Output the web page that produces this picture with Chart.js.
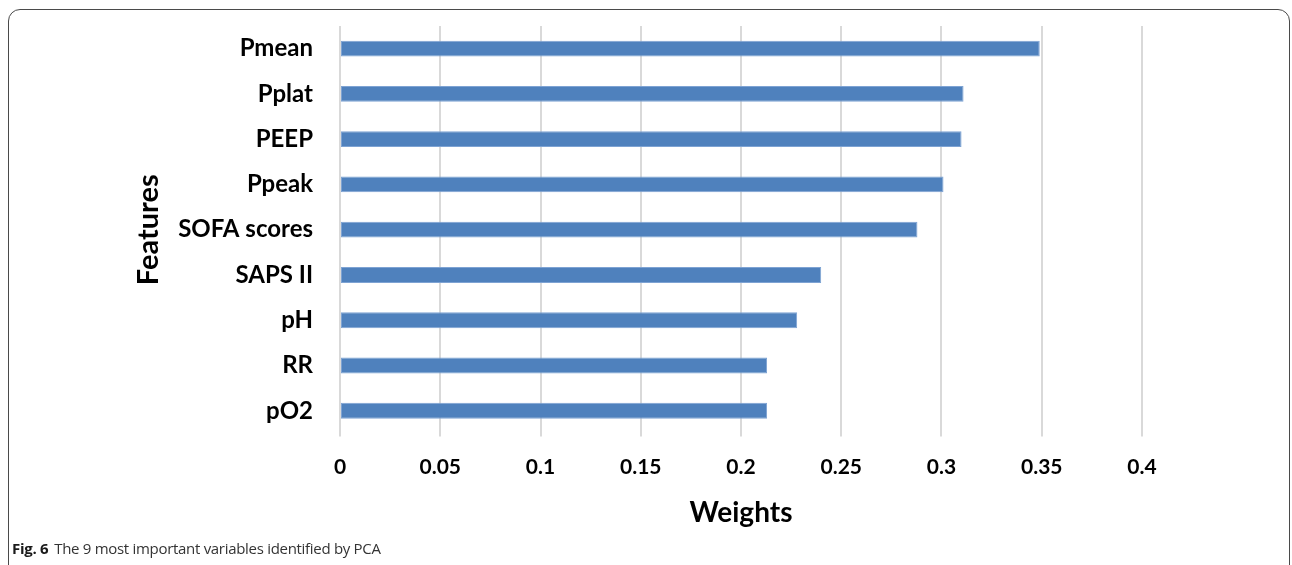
<!DOCTYPE html>
<html>
<head>
<meta charset="utf-8">
<script src="https://cdn.jsdelivr.net/npm/chart.js@4"></script>
<style>
    html, body { margin: 0; padding: 0; background: #fff; }
    #wrap { position: relative; width: 1292px; height: 565px; overflow: hidden; }
    #frame {
        position: absolute; left: 8px; top: 9px; width: 1280px; height: 600px;
        border: 1.5px solid #4a4a4a; border-radius: 12px 12px 0 0;
    }
    #chartBox { position: absolute; left: 0; top: 0; width: 1292px; height: 565px; }
    #caption {
        position: absolute; left: 12px; top: 538px;
        font-family: "Open Sans", sans-serif; font-size: 15px; color: #333;
        letter-spacing: -0.3px;
    }
    #caption b { color: #1a1a1a; margin-right: 6px; }
</style>
</head>
<body>
<div id="wrap">
    <div id="frame"></div>
    <div id="chartBox"><canvas id="pcaChart" width="1292" height="565"></canvas></div>
    <div id="caption"><b>Fig. 6</b>The 9 most important variables identified by PCA</div>
</div>
<script>
// feature names (top to bottom) and their PCA weights
let features = ["Pmean", "Pplat", "PEEP", "Ppeak", "SOFA scores", "SAPS II", "pH", "RR", "pO2"];
let weights = [0.349, 0.311, 0.310, 0.301, 0.288, 0.240, 0.228, 0.213, 0.213];
let weightTicks = [0, 0.05, 0.1, 0.15, 0.2, 0.25, 0.3, 0.35, 0.4];

document.addEventListener("DOMContentLoaded", () => {
    let ctx = document.getElementById('pcaChart').getContext('2d');
    let labelFont = "Lato";

    let pcaChart = new Chart(ctx, {
        type: 'bar',
        data: {
            labels: features,
            datasets: [{
                label: 'Weights',
                data: weights,
                backgroundColor: '#4f81bd',
                borderColor: '#7ea3d3',
                borderWidth: 1,
                borderSkipped: false,
                categoryPercentage: 1,
                barPercentage: 0.35
            }]
        },
        options: {
            indexAxis: 'y',
            responsive: false,
            animation: false,
            layout: {
                padding: { top: 26, right: 150, bottom: 35, left: 131 }
            },
            plugins: {
                legend: { display: false },
                tooltip: { enabled: false }
            },
            scales: {
                x: {
                    min: 0,
                    max: 0.4,
                    afterBuildTicks: function(axis) {
                        axis.ticks = weightTicks.map(v => ({ value: v }));
                    },
                    afterFit: function(axis) {
                        axis.height = 96.6;
                    },
                    border: { display: false },
                    grid: {
                        color: '#d9d9d9',
                        lineWidth: 2,
                        tickLength: 3
                    },
                    ticks: {
                        padding: 18,
                        color: '#000',
                        font: { family: labelFont, size: 21, weight: 'bold' },
                        callback: function(value) { return String(value); }
                    },
                    title: {
                        display: true,
                        text: 'Weights',
                        color: '#000',
                        padding: 0,
                        font: { family: labelFont, size: 28, weight: 'bold' }
                    }
                },
                y: {
                    afterFit: function(axis) {
                        axis.width = 209;
                        // label padding would push the plot down otherwise
                        axis.paddingTop = 0;
                        axis.paddingBottom = 0;
                    },
                    border: { display: false },
                    grid: { display: false, drawTicks: false },
                    ticks: {
                        padding: 27,
                        color: '#000',
                        font: { family: labelFont, size: 24, weight: 'bold' }
                    },
                    title: {
                        display: true,
                        text: 'Features',
                        color: '#000',
                        padding: 0,
                        font: { family: labelFont, size: 29, weight: 'bold' }
                    }
                }
            }
        }
    });
});
</script>
</body>
</html>
